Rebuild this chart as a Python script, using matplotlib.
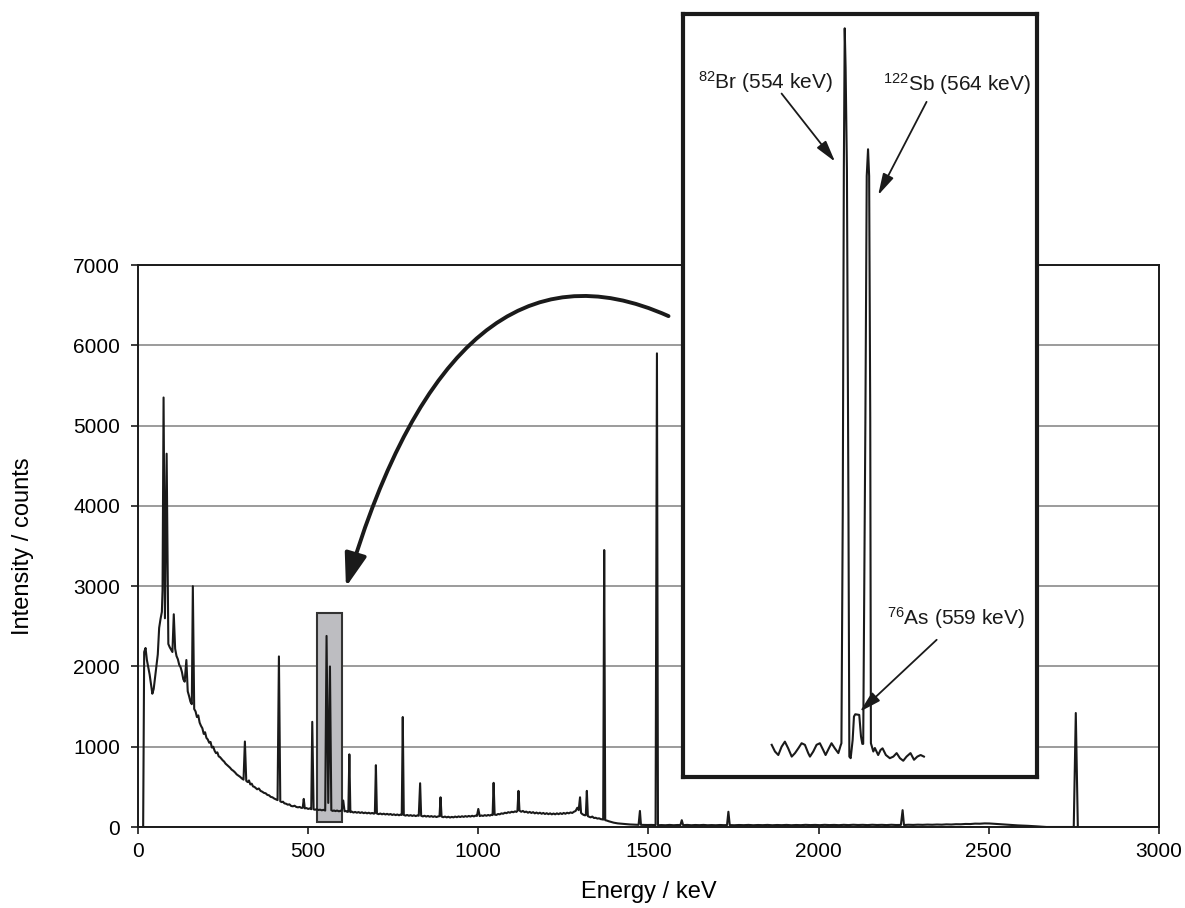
import numpy as np
import matplotlib.pyplot as plt
from matplotlib.path import Path
from matplotlib.patches import FancyArrowPatch, Rectangle

plt.rcParams['font.family'] = ['Liberation Sans', 'DejaVu Sans']
plt.rcParams['mathtext.fontset'] = 'custom'
plt.rcParams['mathtext.rm'] = 'Liberation Sans'

# continuum of the gamma spectrum (keV, counts)
bg_e = [15, 18, 22, 26, 30, 34, 38, 42, 46, 50, 54, 58, 62, 66, 70, 72,
        79, 89, 93, 97, 101, 109, 113, 117, 121, 125, 129, 133, 137,
        146, 150, 154, 158, 165, 169, 173, 177, 181, 185, 189, 193, 197,
        201, 205, 209, 213, 217, 221, 225, 229, 233, 237, 241, 245, 249,
        253, 257, 261, 265, 270, 275, 280, 285, 290, 295, 300, 305, 310,
        318, 322, 326, 330, 334, 338, 342, 346, 350, 355, 360, 365, 370,
        375, 380, 385, 390, 395, 400, 405, 410, 418, 422, 426, 430, 435,
        440, 445, 450, 455, 460, 465, 470, 475, 480, 484, 490, 495, 500,
        505, 509, 516, 520, 525, 530, 535, 540, 545, 550, 568, 572, 576,
        580, 585, 590, 595, 599, 607, 611, 615, 618, 624, 628, 633, 638,
        643, 648, 653, 658, 663, 668, 673, 678, 683, 688, 693, 696, 702,
        707, 712, 717, 722, 727, 732, 737, 742, 747, 752, 757, 762, 767,
        771, 775, 781, 786, 791, 796, 801, 806, 811, 816, 821, 825, 832,
        837, 842, 847, 852, 857, 862, 867, 872, 877, 882, 886, 892, 897,
        902, 907, 912, 917, 922, 927, 932, 937, 942, 947, 952, 957, 962,
        967, 972, 977, 982, 987, 992, 996, 1004, 1009, 1014, 1019, 1024,
        1029, 1034, 1038, 1042, 1048, 1053, 1058, 1063, 1068, 1073, 1078,
        1083, 1088, 1093, 1098, 1103, 1108, 1112, 1115, 1121, 1126, 1131,
        1136, 1141, 1146, 1151, 1156, 1161, 1166, 1171, 1176, 1181, 1186,
        1191, 1196, 1201, 1206, 1211, 1216, 1221, 1226, 1231, 1236, 1241,
        1246, 1251, 1256, 1261, 1266, 1271, 1276, 1281, 1286, 1291, 1295,
        1302, 1306, 1310, 1314, 1316, 1322, 1326, 1330, 1335, 1340, 1345,
        1350, 1355, 1360, 1365, 1367, 1373, 1378, 1383, 1388, 1393, 1398,
        1403, 1410, 1418, 1426, 1435, 1445, 1455, 1465, 1471, 1478, 1488,
        1498, 1508, 1516, 1521, 1528, 1538, 1550, 1562, 1574, 1586, 1594,
        1602, 1614, 1626, 1638, 1650, 1662, 1674, 1686, 1698, 1710, 1722,
        1731, 1739, 1752, 1766, 1780, 1794, 1808, 1822, 1836, 1850, 1864,
        1878, 1892, 1906, 1920, 1934, 1948, 1962, 1976, 1990, 2004, 2018,
        2032, 2046, 2060, 2074, 2088, 2102, 2116, 2130, 2144, 2158, 2172,
        2186, 2200, 2214, 2228, 2242, 2251, 2264, 2278, 2292, 2306, 2320,
        2334, 2348, 2362, 2376, 2390, 2404, 2418, 2432, 2446, 2460, 2474,
        2488, 2502, 2516, 2530, 2544, 2558, 2572, 2586, 2600, 2614, 2628,
        2642, 2656, 2670, 2750, 2762]
bg_counts = [0, 2180, 2230, 2080, 1990, 1900, 1780, 1660, 1720, 1860, 2000, 2150, 2480, 2590, 2680, 2950,
             2600, 2280, 2240, 2210, 2180, 2220, 2130, 2090, 2020, 1990, 1930, 1840, 1810,
             1690, 1630, 1560, 1530, 1470, 1440, 1370, 1390, 1300, 1260, 1230, 1160, 1180,
             1110, 1090, 1050, 1060, 990, 1000, 950, 920, 930, 880, 870, 850, 830,
             815, 790, 775, 760, 740, 715, 700, 680, 655, 640, 625, 605, 590,
             575, 560, 580, 530, 540, 505, 500, 485, 470, 480, 450, 440, 425,
             420, 400, 395, 375, 370, 355, 345, 335, 320, 310, 315, 295, 290,
             278, 282, 262, 258, 265, 250, 245, 250, 238, 240, 232, 236, 225,
             232, 222, 220, 215, 222, 212, 216, 208, 214, 205, 210, 200, 206,
             198, 205, 196, 200, 212, 195, 200, 188, 192, 185, 192, 180, 188,
             178, 186, 175, 184, 172, 180, 170, 178, 168, 175, 166, 172, 168,
             160, 168, 158, 166, 156, 164, 154, 162, 150, 158, 148, 156, 146,
             154, 150, 150, 142, 150, 140, 148, 138, 146, 136, 144, 140, 140,
             132, 140, 130, 138, 128, 136, 126, 134, 124, 132, 135, 130, 122,
             130, 120, 128, 118, 126, 120, 130, 122, 132, 124, 134, 126, 136,
             128, 138, 130, 140, 132, 142, 138, 136, 144, 138, 148, 140,
             150, 142, 152, 148, 155, 150, 162, 158, 170, 165, 178,
             172, 185, 178, 190, 184, 195, 188, 200, 205, 190, 200,
             185, 192, 178, 188, 175, 185, 170, 180, 168, 178, 165,
             175, 162, 172, 160, 170, 158, 168, 158, 170, 160, 172,
             162, 175, 165, 178, 170, 182, 175, 190, 200, 240, 210,
             175, 160, 150, 145, 150, 135, 128, 120, 130, 112, 115,
             105, 108, 98, 95, 92, 85, 80, 72, 66, 60, 54,
             50, 45, 42, 38, 35, 32, 30, 28, 27, 27, 26,
             25, 26, 24, 24, 22, 24, 22, 26, 22, 25, 24,
             23, 26, 22, 25, 23, 26, 22, 24, 22, 25, 23,
             24, 24, 22, 25, 23, 26, 22, 25, 23, 26, 22,
             25, 23, 26, 22, 25, 23, 27, 24, 26, 23, 27,
             24, 26, 23, 27, 24, 28, 25, 27, 24, 28, 25,
             27, 24, 28, 25, 26, 25, 28, 26, 29, 27, 30,
             28, 31, 29, 33, 31, 35, 34, 38, 37, 42, 41,
             45, 44, 40, 36, 32, 28, 24, 20, 18, 15, 12,
             8, 4, 0, 0, 0]

# photopeaks (keV, counts)
peak_e = [75, 84, 105, 142, 161, 314, 414, 487, 512, 554, 559, 564, 603,
          621, 699, 778, 829, 889, 1000, 1045, 1118, 1299, 1319, 1370,
          1475, 1525, 1598, 1735, 2247, 2756]
peak_counts = [5350, 4650, 2650, 2080, 3000, 1065, 2125, 350, 1310, 2380,
               300, 2000, 330, 905, 770, 1370, 545, 370, 225, 550, 450,
               370, 450, 3450, 200, 5900, 85, 190, 210, 1420]

# region shown enlarged in the inset
zoom_e = (526, 599)
zoom_counts = (62, 2667)

# enlarged 520-590 keV part of the spectrum (inset)
inset_e = [520.7, 522.2, 523.7, 525.2, 526.7, 528.2, 529.8, 531.3, 532.8,
           534.3, 535.8, 537.3, 538.1, 539.6, 541.1, 542.6, 544.1, 545.2,
           546.7, 547.9, 549.4, 551.0, 552.0, 552.4, 553.0, 553.5, 553.9,
           554.3, 554.9, 555.6, 556.0, 556.6, 557.5, 558.1, 558.7, 560.5,
           561.3, 561.9, 562.3, 563.3, 563.9, 564.5, 565.0, 565.5, 565.8,
           566.9, 567.6, 569.1, 570.2, 571.1, 572.6, 574.4, 576.0, 577.5,
           579.0, 580.5, 582.0, 583.8, 585.4, 586.9, 588.4, 589.9]
inset_counts = [173, 152, 141, 167, 183, 162, 136, 147, 162,
                178, 173, 147, 136, 152, 173, 178, 157, 141,
                162, 178, 162, 147, 170, 178, 900, 1980, 2424,
                2300, 1980, 900, 136, 131, 188, 262, 269, 267,
                199, 176, 176, 1200, 1960, 2044, 1960, 1200, 178,
                152, 163, 141, 157, 162, 141, 131, 136, 147,
                131, 123, 136, 147, 126, 136, 141, 136]

ink = '#1a1a1a'

e = np.concatenate([bg_e, peak_e])
c = np.concatenate([bg_counts, peak_counts])
order = np.argsort(e, kind='stable')

fig = plt.figure(figsize=(11.85, 9.08), dpi=100)
ax = fig.add_axes([0.1165, 0.0892, 0.8614, 0.6189])
ax.plot(e[order], c[order], color=ink, lw=1.5, zorder=3)
ax.add_patch(Rectangle((zoom_e[0], zoom_counts[0]), zoom_e[1] - zoom_e[0],
                       zoom_counts[1] - zoom_counts[0], facecolor='#bdbdc1',
                       edgecolor='#333333', lw=1.5, zorder=2))
ax.set_xlim(0, 3000)
ax.set_ylim(0, 7000)
ax.set_xticks(range(0, 3001, 500))
ax.set_yticks(range(0, 7001, 1000))
ax.yaxis.grid(True, color='#808080', lw=1.1)
ax.set_axisbelow(True)
for s in ax.spines.values():
    s.set_linewidth(1.4)
    s.set_color(ink)
ax.tick_params(axis='both', direction='out', length=5, width=1.2,
               labelsize=15, color=ink)
ax.tick_params(axis='y', pad=8)
ax.tick_params(axis='x', pad=6)
ax.set_xlabel('Energy / keV', fontsize=17, labelpad=14)
ax.set_ylabel('Intensity / counts', fontsize=17)
ax.yaxis.set_label_coords(-0.102, 0.5)

# big curved arrow from the inset to the highlighted region
arc = Path([(1559, 6364), (931, 7560), (611, 2990)],
           [Path.MOVETO, Path.CURVE3, Path.CURVE3])
ax.add_patch(FancyArrowPatch(path=arc, arrowstyle='-|>,head_length=1.35,head_width=0.45',
                             mutation_scale=15, lw=2.8, color=ink,
                             transform=ax.transData, clip_on=False, zorder=4))

# inset
axin = fig.add_axes([0.5764, 0.1443, 0.2987, 0.8403])
axin.plot(inset_e, inset_counts, color=ink, lw=1.5)
axin.set_xlim(480.4, 641.3)
axin.set_ylim(72, 2469)
axin.set_xticks([])
axin.set_yticks([])
for s in axin.spines.values():
    s.set_linewidth(3)
    s.set_color(ink)

labels = [(r'$\mathregular{^{82}}$Br (554 keV)', (487.2, 2235), (525.2, 2219), (549.5, 2005)),
          (r'$\mathregular{^{122}}$Sb (564 keV)', (571.4, 2227), (591.1, 2193), (569.1, 1900)),
          (r'$\mathregular{^{76}}$As (559 keV)', (573.0, 550), (595.7, 503), (560.8, 277))]
for txt, pos, start, tip in labels:
    axin.text(pos[0], pos[1], txt, fontsize=15, ha='left', va='baseline', color=ink)
    axin.annotate('', xy=tip, xytext=start,
                  arrowprops=dict(arrowstyle='-|>,head_length=1.3,head_width=0.35',
                                  mutation_scale=10, lw=1.3, color=ink,
                                  shrinkA=0, shrinkB=0))

fig.savefig('out.png', dpi=100)
